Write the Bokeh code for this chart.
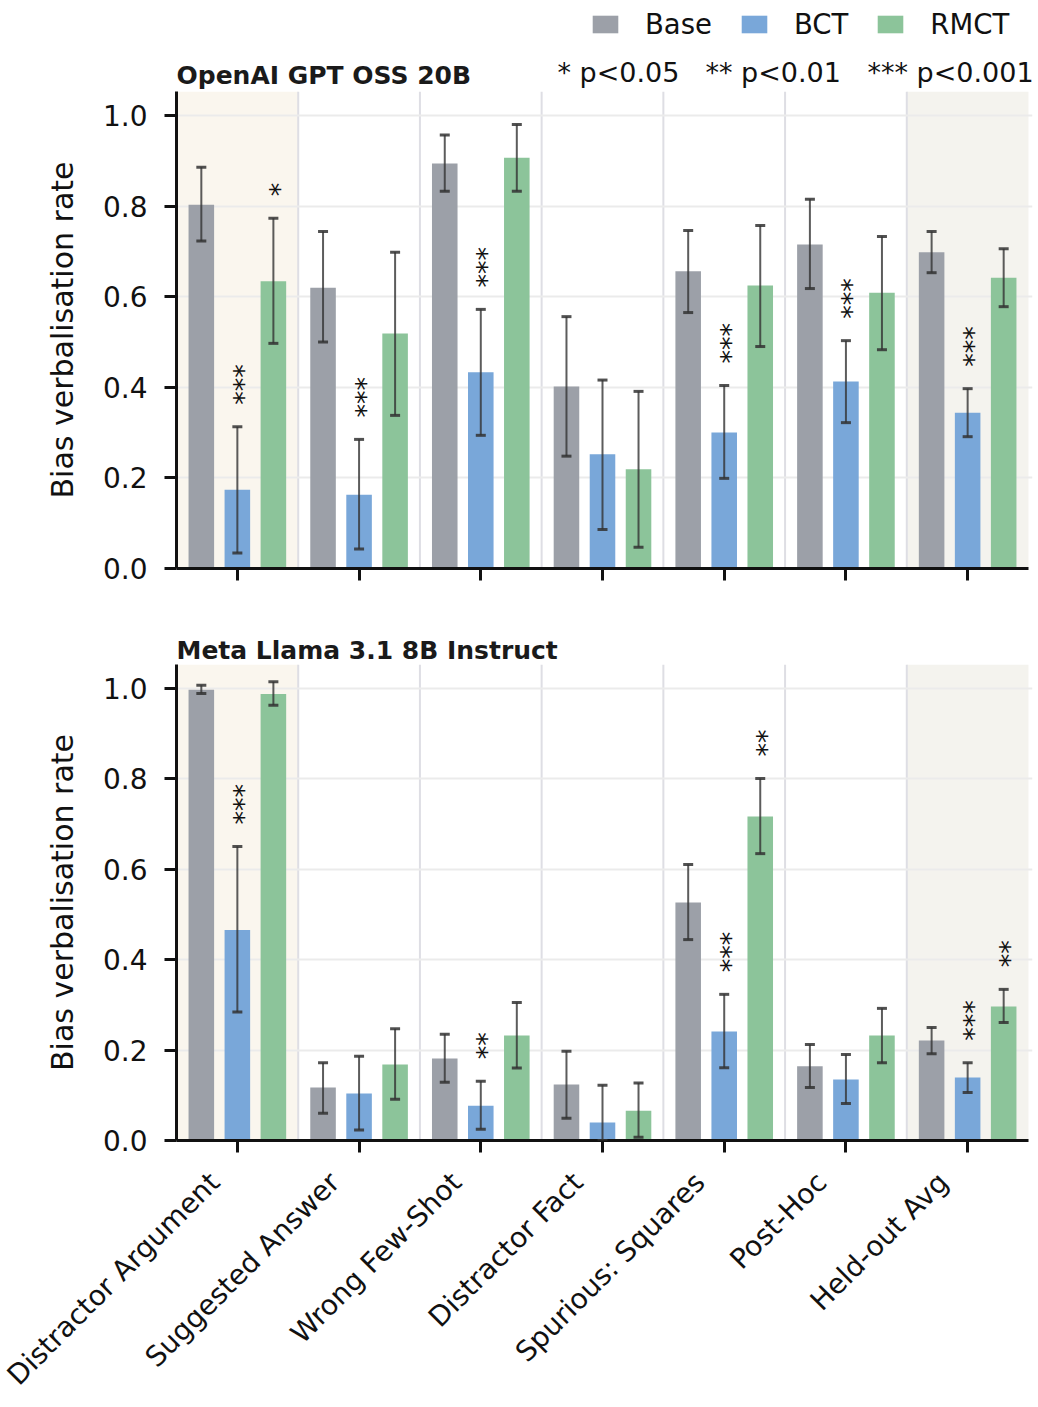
import math
from bokeh.plotting import figure
from bokeh.layouts import column
from bokeh.models import (ColumnDataSource, Whisker, TeeHead, BoxAnnotation, LinearAxis,
                          FixedTicker, Legend, LegendItem, Label, Range1d, PrintfTickFormatter)
from bokeh.core.properties import value
from bokeh.embed import file_html
from bokeh.resources import INLINE

categories = ["Distractor Argument", "Suggested Answer", "Wrong Few-Shot", "Distractor Fact",
              "Spurious: Squares", "Post-Hoc", "Held-out Avg"]
series_names = ["Base", "BCT", "RMCT"]
colors = ["#9ca0a8", "#79a7d9", "#8cc49a"]

# ---- OpenAI GPT OSS 20B ----
gpt_base = [0.803, 0.620, 0.894, 0.402, 0.656, 0.715, 0.698]
gpt_base_lo = [0.723, 0.500, 0.833, 0.248, 0.565, 0.618, 0.653]
gpt_base_hi = [0.886, 0.744, 0.957, 0.556, 0.746, 0.815, 0.744]
gpt_bct = [0.174, 0.163, 0.433, 0.252, 0.300, 0.413, 0.344]
gpt_bct_lo = [0.034, 0.043, 0.294, 0.086, 0.199, 0.322, 0.291]
gpt_bct_hi = [0.313, 0.285, 0.572, 0.416, 0.404, 0.503, 0.397]
gpt_rmct = [0.634, 0.519, 0.907, 0.219, 0.625, 0.609, 0.642]
gpt_rmct_lo = [0.497, 0.338, 0.833, 0.047, 0.490, 0.483, 0.578]
gpt_rmct_hi = [0.773, 0.698, 0.980, 0.391, 0.757, 0.733, 0.706]
gpt_sig_base = ["", "", "", "", "", "", ""]
gpt_sig_bct = ["***", "***", "***", "", "***", "***", "***"]
gpt_sig_rmct = ["*", "", "", "", "", "", ""]

# ---- Meta Llama 3.1 8B Instruct ----
llama_base = [0.996, 0.117, 0.181, 0.124, 0.526, 0.164, 0.221]
llama_base_lo = [0.988, 0.060, 0.129, 0.049, 0.444, 0.117, 0.192]
llama_base_hi = [1.006, 0.172, 0.235, 0.197, 0.610, 0.212, 0.250]
llama_bct = [0.465, 0.104, 0.077, 0.040, 0.241, 0.135, 0.139]
llama_bct_lo = [0.284, 0.023, 0.025, 0.000, 0.161, 0.082, 0.106]
llama_bct_hi = [0.650, 0.186, 0.131, 0.122, 0.323, 0.190, 0.172]
llama_rmct = [0.987, 0.168, 0.232, 0.066, 0.716, 0.232, 0.296]
llama_rmct_lo = [0.962, 0.091, 0.160, 0.007, 0.634, 0.172, 0.261]
llama_rmct_hi = [1.014, 0.247, 0.305, 0.127, 0.800, 0.292, 0.334]
llama_sig_base = ["", "", "", "", "", "", ""]
llama_sig_bct = ["***", "", "**", "", "***", "", "***"]
llama_sig_rmct = ["", "", "", "", "**", "", "**"]

titles = ["OpenAI GPT OSS 20B", "Meta Llama 3.1 8B Instruct"]
highlight = {0: "#faf6ee", 6: "#f4f3ee"}
y_ticks = [0.0, 0.2, 0.4, 0.6, 0.8, 1.0]
p_notes = ["* p<0.05", "** p<0.01", "*** p<0.001"]

FONT = "DejaVu Sans"
TXT = "#111111"
offsets = [-0.296, 0.0, 0.296]
BAR_W = 0.21
N = len(categories)
X_EXTRA = 4 / 121.7  # a few pixels of room on the right for the significance key


def style_axis(ax):
    ax.axis_line_width = 3
    ax.axis_line_color = TXT
    ax.major_tick_line_width = 3
    ax.major_tick_line_color = TXT
    ax.major_tick_out = 12
    ax.major_tick_in = 0
    ax.minor_tick_line_color = None


def make_panel(title, series, height, top_border, bottom_border, y_end, show_labels):
    p = figure(width=1038, height=height, output_backend="svg", toolbar_location=None,
               title=title,
               x_range=Range1d(-0.5, N - 0.5 + X_EXTRA), y_range=Range1d(0, y_end),
               min_border_left=176, min_border_right=6, min_border_top=top_border,
               min_border_bottom=bottom_border)
    p.outline_line_color = None
    p.background_fill_color = "white"
    p.border_fill_color = "white"

    if title is not None:
        p.title.text_font = FONT
        p.title.text_font_size = "25px"
        p.title.text_font_style = "bold"
        p.title.text_color = "#1a1a1a"
        p.title.align = "left"
        p.title.offset = 0
        p.title.standoff = 0

    for idx, col in highlight.items():
        p.add_layout(BoxAnnotation(left=idx - 0.5, right=idx + 0.5, bottom=0, top=y_end,
                                   fill_color=col, fill_alpha=1.0, line_color=None, level="image"))
    seps = [i + 0.5 for i in range(N - 1)]
    p.segment(x0=seps, y0=[0] * len(seps), x1=seps, y1=[y_end] * len(seps),
              line_color="#dedee4", line_width=2, level="underlay")

    renderers = []
    for k, (vals, lo, hi, sig) in enumerate(series):
        xs = [i + offsets[k] for i in range(N)]
        src = ColumnDataSource(dict(x=xs, top=vals, lo=lo, hi=hi))
        r = p.vbar(x="x", top="top", bottom=0, width=BAR_W, source=src,
                   fill_color=colors[k], line_color=None)
        renderers.append(r)
        w = Whisker(base="x", upper="hi", lower="lo", source=src, level="annotation",
                    line_color="#333333", line_alpha=0.8, line_width=2,
                    upper_head=TeeHead(size=10, line_color="#333333", line_alpha=0.85, line_width=3),
                    lower_head=TeeHead(size=10, line_color="#333333", line_alpha=0.85, line_width=3))
        p.add_layout(w)
        keep = [i for i in range(N) if sig[i]]
        if keep:
            ssrc = ColumnDataSource(dict(x=[xs[i] for i in keep], hi=[hi[i] for i in keep],
                                         sig=[sig[i] for i in keep]))
            p.text(x="x", y="hi", text="sig", source=ssrc, angle=math.pi / 2,
                   text_align="left", text_baseline="alphabetic", x_offset=6, y_offset=-22,
                   text_font=value(FONT), text_font_size="27px", text_color=TXT)

    p.xgrid.grid_line_color = None
    p.ygrid.grid_line_color = "#ebebeb"
    p.ygrid.grid_line_width = 2
    p.ygrid.ticker = FixedTicker(ticks=y_ticks)

    ya = p.yaxis[0]
    ya.ticker = FixedTicker(ticks=y_ticks)
    ya.formatter = PrintfTickFormatter(format="%.1f")
    ya.axis_label = "Bias verbalisation rate"
    ya.axis_label_text_font = FONT
    ya.axis_label_text_font_size = "30px"
    ya.axis_label_text_font_style = "normal"
    ya.axis_label_text_color = TXT
    ya.axis_label_standoff = 20
    ya.major_label_text_font = FONT
    ya.major_label_text_font_size = "28px"
    ya.major_label_text_color = TXT
    ya.major_label_standoff = 17
    style_axis(ya)

    xa = p.xaxis[0]
    xa.ticker = FixedTicker(ticks=list(range(N)))
    xa.bounds = (-0.5, N - 0.5)
    xa.major_label_overrides = {i: "" for i in range(N)}
    xa.major_label_standoff = 0
    style_axis(xa)

    if show_labels:
        delta = 0.2
        p.extra_x_ranges = {"lab": Range1d(-0.5 + delta, N - 0.5 + X_EXTRA + delta)}
        lab = LinearAxis(x_range_name="lab", ticker=FixedTicker(ticks=list(range(N))),
                         major_label_overrides={i: c for i, c in enumerate(categories)},
                         axis_line_color=None, major_tick_line_color=None,
                         minor_tick_line_color=None, major_tick_out=0, major_tick_in=0,
                         major_label_orientation=math.pi / 4, major_label_standoff=25,
                         major_label_text_font=FONT, major_label_text_font_size="28px",
                         major_label_text_color=TXT)
        p.add_layout(lab, "below")
    return p, renderers


# ---- header strip: top panel title, legend and significance key ----
HEADER_H = 91
header = figure(width=1038, height=HEADER_H, output_backend="svg", toolbar_location=None,
                x_range=Range1d(0, 1), y_range=Range1d(0, 1),
                x_axis_location=None, y_axis_location=None,
                min_border_left=176, min_border_right=6, min_border_top=0, min_border_bottom=0)
header.outline_line_color = None
header.grid.visible = False
header.background_fill_color = "white"
header.border_fill_color = "white"
# legend proxies (one point each, placed outside the visible range)
proxies = [header.vbar(x=[-10], top=[0], bottom=0, width=0.1, fill_color=c, line_color=None)
           for c in colors]
legend = Legend(items=[LegendItem(label=n, renderers=[r]) for n, r in zip(series_names, proxies)],
                orientation="horizontal", location=(413, 51),
                background_fill_alpha=0, border_line_alpha=0, padding=0, margin=0,
                glyph_width=32, glyph_height=22, label_standoff=24, spacing=26,
                label_text_font=FONT, label_text_font_size="27.5px", label_text_color=TXT)
header.add_layout(legend)
header.add_layout(Label(x=0, y=HEADER_H - 75, x_units="screen", y_units="screen", text=titles[0],
                        text_align="left", text_baseline="alphabetic",
                        text_font=FONT, text_font_size="25px", text_font_style="bold",
                        text_color="#1a1a1a"))
for txt, xs in zip(p_notes, [381, 529, 691]):
    header.add_layout(Label(x=xs, y=HEADER_H - 72, x_units="screen", y_units="screen", text=txt,
                            text_align="left", text_baseline="alphabetic",
                            text_font=FONT, text_font_size="27px", text_color=TXT))

p1, r1 = make_panel(None,
                    [(gpt_base, gpt_base_lo, gpt_base_hi, gpt_sig_base),
                     (gpt_bct, gpt_bct_lo, gpt_bct_hi, gpt_sig_bct),
                     (gpt_rmct, gpt_rmct_lo, gpt_rmct_hi, gpt_sig_rmct)],
                    height=610 - HEADER_H, top_border=0, bottom_border=42,
                    y_end=1.053, show_labels=False)

p2, r2 = make_panel(titles[1],
                    [(llama_base, llama_base_lo, llama_base_hi, llama_sig_base),
                     (llama_bct, llama_bct_lo, llama_bct_hi, llama_sig_bct),
                     (llama_rmct, llama_rmct_lo, llama_rmct_hi, llama_sig_rmct)],
                    height=797, top_border=54, bottom_border=267,
                    y_end=1.052, show_labels=True)

layout = column(header, p1, p2, spacing=0)
open("out.html", "w").write(file_html(layout, INLINE))
